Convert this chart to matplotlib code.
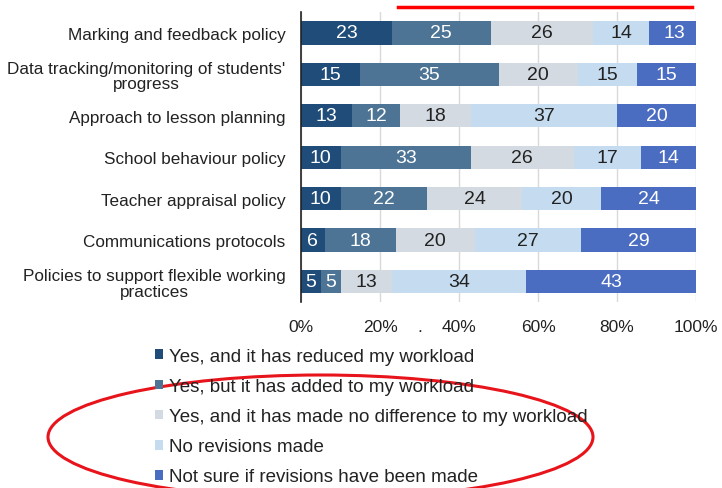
import matplotlib
matplotlib.use("Agg")
import matplotlib.pyplot as plt
from matplotlib.patches import Ellipse, Patch
from matplotlib.lines import Line2D
import numpy as np

plt.rcParams["font.family"] = ["Liberation Sans", "DejaVu Sans"]

# ----------------------------
# data (percent of respondents)
# ----------------------------
policies = [
    "Marking and feedback policy",
    "Data tracking/monitoring of students'\nprogress",
    "Approach to lesson planning",
    "School behaviour policy",
    "Teacher appraisal policy",
    "Communications protocols",
    "Policies to support flexible working\npractices",
]
reduced = [23, 15, 13, 10, 10, 6, 5]
added = [25, 35, 12, 33, 22, 18, 5]
no_difference = [26, 20, 18, 26, 24, 20, 13]
no_revisions = [14, 15, 37, 17, 20, 27, 34]
not_sure = [13, 15, 20, 14, 24, 29, 43]

responses = [
    "Yes, and it has reduced my workload",
    "Yes, but it has added to my workload",
    "Yes, and it has made no difference to my workload",
    "No revisions made",
    "Not sure if revisions have been made",
]
colors = ["#1f4c78", "#4d7495", "#d3dae1", "#c5dcf0", "#4a6cc1"]
text_colors = ["white", "white", "#222222", "#222222", "white"]
x_ticks = [0, 20, 40, 60, 80, 100]

# ----------------------------
# plot
# ----------------------------
fig = plt.figure(figsize=(7.22, 4.89), dpi=100)
ax = fig.add_axes([0.4169, 0.380, 0.5471, 0.593])

series = [reduced, added, no_difference, no_revisions, not_sure]
y = np.arange(len(policies))
left = np.zeros(len(policies))
for vals, col, tcol, lab in zip(series, colors, text_colors, responses):
    vals = np.array(vals, dtype=float)
    ax.barh(y, vals, left=left, height=0.56, color=col, label=lab, zorder=2)
    for yi, (l, v) in enumerate(zip(left, vals)):
        ax.text(l + v / 2, yi, f"{int(v)}", ha="center", va="center",
                color=tcol, fontsize=14, zorder=3)
    left += vals

ax.set_ylim(len(policies) - 0.5, -0.5)
ax.set_xlim(0, 100)
ax.set_yticks(y)
ax.set_yticklabels(policies, fontsize=12.3, color="#222222", ha="right",
                   multialignment="center", linespacing=1.05)
ax.set_xticks(x_ticks)
ax.set_xticklabels([f"{t}%" for t in x_ticks], fontsize=12.5, color="#222222")
ax.tick_params(axis="both", length=0)
ax.tick_params(axis="x", pad=12)
ax.tick_params(axis="y", pad=11)

# 目盛り線・枠
ax.grid(axis="x", color="#d9d9d9", linewidth=1, zorder=0)
for s in ["top", "right", "bottom"]:
    ax.spines[s].set_visible(False)
ax.spines["left"].set_color("#222222")
ax.spines["left"].set_linewidth(1.2)

fig.text(420 / 722, 1 - 327 / 489, ".", fontsize=12.5, ha="center", va="center",
         color="#222222")

# 凡例（縦並び）
handles = [Patch(facecolor=c, edgecolor="none") for c in colors]
fig.legend(handles, responses, loc="upper left",
           bbox_to_anchor=(155 / 722, 1 - 349 / 489), frameon=False,
           fontsize=13.5, handlelength=0.43, handleheight=0.43, handletextpad=0.32,
           labelspacing=0.70, borderaxespad=0, borderpad=0, labelcolor="#222222")

# 赤い注記
fig.add_artist(Line2D([398 / 722, 692 / 722], [1 - 8 / 489, 1 - 8 / 489],
                      color="#ff0000", linewidth=2.5, transform=fig.transFigure))
fig.add_artist(Ellipse((320.5 / 722, 1 - 438 / 489), 545 / 722, 124 / 489,
                       fill=False, edgecolor="#e8141b", linewidth=2.2,
                       transform=fig.transFigure))

fig.savefig("out.png", dpi=100)
